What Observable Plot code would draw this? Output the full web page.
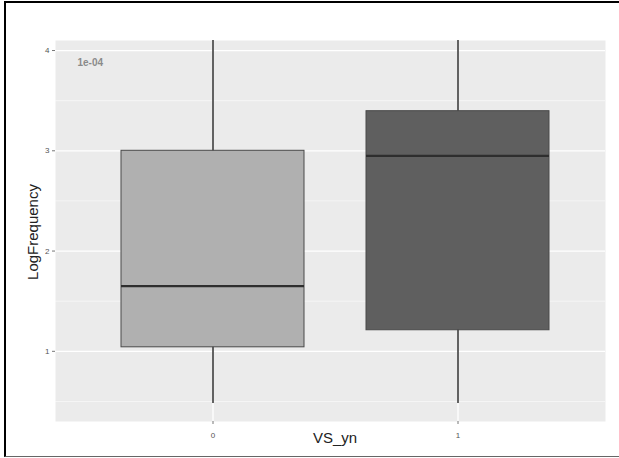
<!DOCTYPE html>
<html>
<head>
<meta charset="utf-8">
<script src="https://cdn.jsdelivr.net/npm/d3@7"></script>
<script src="https://cdn.jsdelivr.net/npm/@observablehq/plot@0.6"></script>
<style>
  html, body { margin: 0; padding: 0; background: #fff; overflow: hidden; }
  #wrap { position: relative; width: 619px; height: 458px; }
  #frame { position: absolute; left: 4px; top: 1px; width: 700px; height: 453px;
           border-left: 2px solid #000; border-top: 2px solid #000; border-bottom: 1px solid #666; }
  #chart { position: absolute; left: 0; top: 0; }
  svg { font-family: "Liberation Sans", Arial, sans-serif; }
</style>
</head>
<body>
<div id="wrap"><div id="frame"></div><div id="chart"></div></div>
<script>
const groups = ["0", "1"];
const q1 = [1.04, 1.21];
const median = [1.65, 2.95];
const q3 = [3.0, 3.395];
const whiskerLow = [0.48, 0.48];
const whiskerHigh = [4.6, 4.6];
const yMajor = [1, 2, 3, 4];
const yMinor = [0.5, 1.5, 2.5, 3.5];
const annotation = "1e-04";

const boxes = groups.map((g, i) => ({
  g, q1: q1[i], med: median[i], q3: q3[i], lo: whiskerLow[i], hi: whiskerHigh[i]
}));

const plot = Plot.plot({
  width: 619,
  height: 458,
  marginLeft: 55,
  marginRight: 14,
  marginTop: 40,
  marginBottom: 37,
  style: { background: "transparent", fontFamily: "Liberation Sans, Arial, sans-serif" },
  x: { domain: groups, paddingInner: 0.252, paddingOuter: 0.244, align: 0.54, label: null },
  y: { domain: [0.3, 4.1], label: null },
  color: { domain: groups, range: ["#b0b0b0", "#5f5f5f"] },
  marks: [
    Plot.frame({ fill: "#ebebeb", stroke: null }),
    Plot.ruleY(yMinor, { stroke: "#fafafa", strokeWidth: 0.7 }),
    Plot.ruleY(yMajor, { stroke: "#ffffff", strokeWidth: 1.3 }),
    Plot.ruleX(groups, { x: d => d, stroke: "#ffffff", strokeWidth: 1.3 }),
    Plot.ruleX(boxes, { x: "g", y1: "lo", y2: "hi", stroke: "#3c3c3c", strokeWidth: 1.6, clip: true }),
    Plot.barY(boxes, { x: "g", y1: "q1", y2: "q3", fill: "g", stroke: "#4a4a4a", strokeWidth: 1, inset: 0 }),
    Plot.tickY(boxes, { x: "g", y: "med", stroke: "#2e2e2e", strokeWidth: 2.2 }),
    Plot.text([annotation], { text: d => d, frameAnchor: "top-left", dx: 22, dy: 18, textAnchor: "start",
      fill: "#8a8a8a", fontWeight: "bold", fontSize: 10 }),
    Plot.axisY(yMajor, { tickSize: 3, tickPadding: 3, fontSize: 8, color: "#555", stroke: "#777",
      tickFormat: d => String(d), label: null }),
    Plot.axisX(groups, { tickSize: 3, tickPadding: 8, fontSize: 8, color: "#555", stroke: "#777",
      label: null })
  ]
});

// axis titles with ggplot-like styling
const svg = d3.select(plot);
svg.append("text")
  .attr("x", 335).attr("y", 443)
  .attr("text-anchor", "middle")
  .attr("font-size", 15).attr("fill", "#222")
  .text("VS_yn");
svg.append("text")
  .attr("transform", "translate(38,232) rotate(-90)")
  .attr("text-anchor", "middle")
  .attr("font-size", 15).attr("fill", "#222")
  .text("LogFrequency");

document.getElementById("chart").appendChild(plot);
</script>
</body>
</html>
